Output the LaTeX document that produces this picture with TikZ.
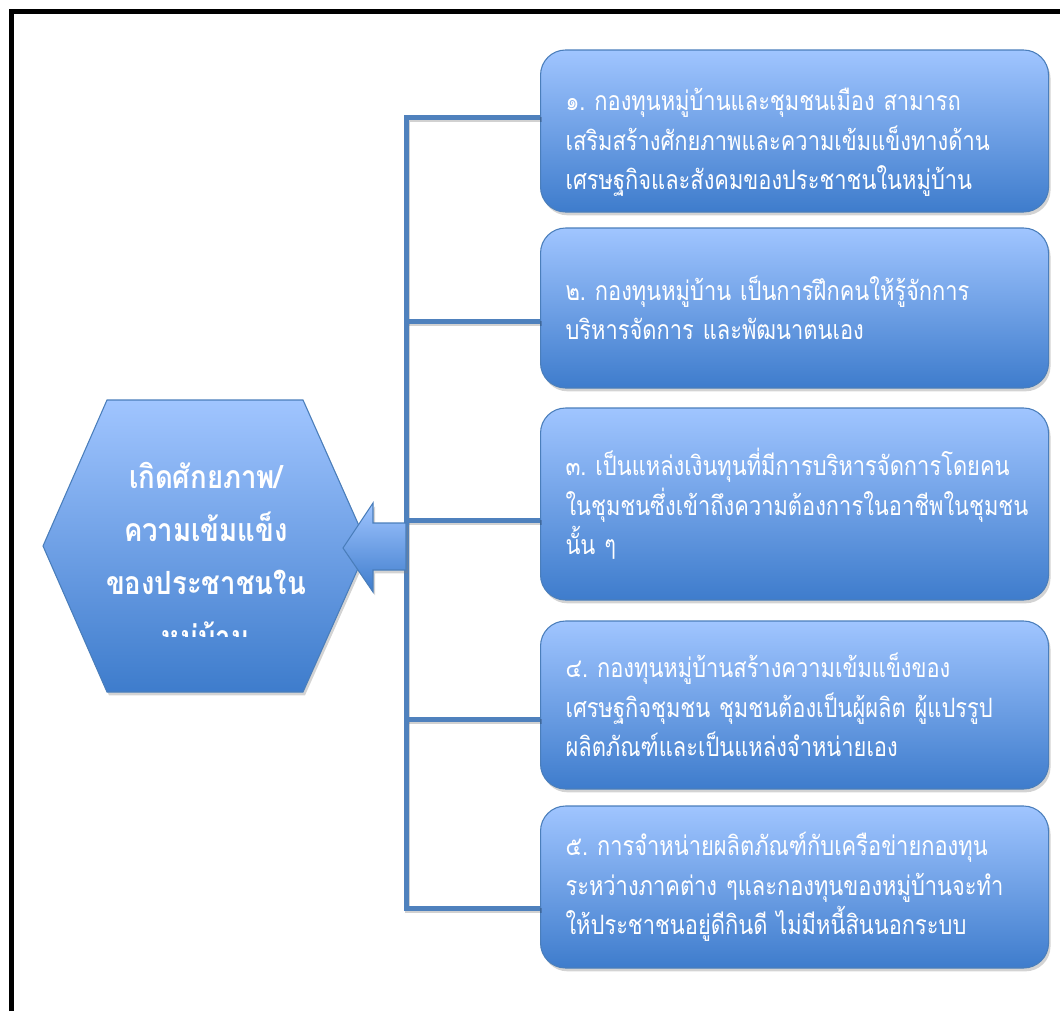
\documentclass[tikz,border=0pt]{standalone}
\usepackage{fontspec}
\newfontfamily\thai[Script=Thai,FakeStretch=0.82]{Loma}
\newfontfamily\thaihex[Script=Thai,FakeStretch=0.86]{Loma}
\usetikzlibrary{shadows}
\definecolor{edgeblue}{RGB}{74,126,187}
\definecolor{ctop}{RGB}{160,197,255}
\definecolor{cbot}{RGB}{62,124,204}
\definecolor{connblue}{RGB}{79,129,189}
\begin{document}
\begin{tikzpicture}[x=0.75pt,y=-0.75pt,
  shade3d/.style={draw=edgeblue, line width=0.8pt, top color=ctop, bottom color=cbot,
    drop shadow={opacity=0.35, shadow xshift=1.5pt, shadow yshift=-2.5pt}},
  itembox/.style={shade3d, rounded corners=18.75pt, minimum width=381pt,
    text width=343.5pt, align=left, inner xsep=18.75pt, anchor=west, text=white,
    font=\thai\fontsize{20}{29.5}\selectfont},
  connline/.style={draw=connblue, line width=3.75pt, line join=miter},
  connshadow/.style={draw=black, opacity=0.18, line width=3.75pt, line join=miter,
    transform canvas={shift={(1.2pt,-1.8pt)}}},
  hextext/.style={text=white, align=center, font=\thaihex\bfseries\fontsize{24}{40}\selectfont}]
\useasboundingbox (0,0) rectangle (1060,1011);
% frame
\coordinate (fbl) at (11.7,1011);
\coordinate (ftl) at (11.7,11.7);
\coordinate (ftr) at (1060,11.7);
\draw[line width=3.5pt, line join=miter] (fbl) -- (ftl) -- (ftr);
% boxes
\node[itembox, minimum height=121.5pt] (b1) at (540,131) {\rule{0pt}{34pt}%
๑.~กองทุนหมู่บ้านและชุมชนเมือง~สามารถ\\
เสริมสร้างศักยภาพและความเข้มแข็งทางด้าน\\
เศรษฐกิจและสังคมของประชาชนในหมู่บ้าน};
\node[itembox, minimum height=120pt] (b2) at (540,308) {%
๒.~กองทุนหมู่บ้าน~เป็นการฝึกคนให้รู้จักการ\\
บริหารจัดการ~และพัฒนาตนเอง};
\node[itembox, minimum height=144pt] (b3) at (540,504) {%
๓.~เป็นแหล่งเงินทุนที่มีการบริหารจัดการโดยคน\\
ในชุมชนซึ่งเข้าถึงความต้องการในอาชีพในชุมชน\\
นั้น~ๆ};
\node[itembox, minimum height=126pt] (b4) at (540,705) {%
๔.~กองทุนหมู่บ้านสร้างความเข้มแข็งของ\\
เศรษฐกิจชุมชน~ชุมชนต้องเป็นผู้ผลิต~ผู้แปรรูป\\
ผลิตภัณฑ์และเป็นแหล่งจำหน่ายเอง};
\node[itembox, minimum height=121.5pt] (b5) at (540,887) {%
๕.~การจำหน่ายผลิตภัณฑ์กับเครือข่ายกองทุน\\
ระหว่างภาคต่าง~ๆและกองทุนของหมู่บ้านจะทำ\\
ให้ประชาชนอยู่ดีกินดี~ไม่มีหนี้สินนอกระบบ};
% connectors
\coordinate (j1) at (406,117);
\coordinate (j2) at (406,321);
\coordinate (j3) at (406,520);
\coordinate (j4) at (406,719);
\coordinate (j5) at (406,908);
\draw[connshadow] (j1 -| b1.west) -- (j1) -- (j5) -- (j5 -| b5.west);
\draw[connshadow] (j2) -- (j2 -| b2.west);
\draw[connshadow] (j3) -- (j3 -| b3.west);
\draw[connshadow] (j4) -- (j4 -| b4.west);
\draw[connline] (j1 -| b1.west) -- (j1) -- (j5) -- (j5 -| b5.west);
\draw[connline] (j2) -- (j2 -| b2.west);
\draw[connline] (j3) -- (j3 -| b3.west);
\draw[connline] (j4) -- (j4 -| b4.west);
% hexagon
\path[shade3d] (43,546) -- (107,400) -- (303,400) -- (368,546) -- (303,692) -- (107,692) -- cycle;
\begin{scope}
\clip (40,398) rectangle (372,636);
\node[hextext] (hex) at (206,559) {เกิดศักยภาพ/\\ความเข้มแข็ง\\ของประชาชนใน\\หมู่บ้าน};
\end{scope}
% arrow
\coordinate (ah) at (343,548);
\path[shade3d] (j3 |- 0,523) -- (373,523) -- (373,503) -- (ah) -- (373,592) -- (373,570) -- (j3 |- 0,570) -- cycle;
\end{tikzpicture}
\end{document}
